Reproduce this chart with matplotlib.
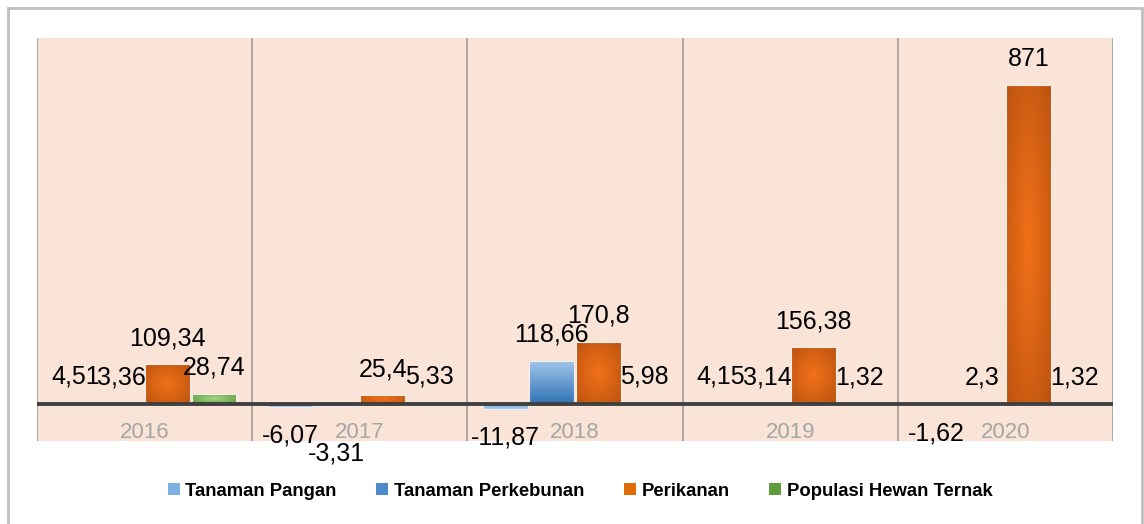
import numpy as np
import matplotlib.pyplot as plt
from matplotlib.colors import LinearSegmentedColormap
from matplotlib.patches import Patch, Rectangle

# data (growth, %)
years = ['2016', '2017', '2018', '2019', '2020']
series_names = ['Tanaman Pangan', 'Tanaman Perkebunan', 'Perikanan', 'Populasi Hewan Ternak']
tanaman_pangan = [4.51, -6.07, -11.87, 4.15, -1.62]
tanaman_perkebunan = [3.36, -3.31, 118.66, 3.14, 2.3]
perikanan = [109.34, 25.4, 170.8, 156.38, 871]
hewan_ternak = [28.74, 5.33, 5.98, 1.32, 1.32]

# (light/centre colour, dark/edge colour, gradient type, legend colour)
styles = [
    ('#A9CDEE', '#6FA5DC', 'vertical', '#7EB1E3'),
    ('#A3C7EA', '#2E72B4', 'vertical', '#4F8ACB'),
    ('#F27119', '#BC5310', 'radial', '#E26B0A'),
    ('#A6D48A', '#5A9A32', 'radial', '#5E9E3A'),
]

# extra push for labels that would collide
nudge = {(1, 1): -14}

label_font = ['Liberation Sans', 'DejaVu Sans']


def fmt(v):
    return f'{v:g}'.replace('.', ',')


def shade_bar(ax, bar, c_light, c_dark, mode):
    x, y = bar.get_x(), bar.get_y()
    w, h = bar.get_width(), bar.get_height()
    cmap = LinearSegmentedColormap.from_list('shade', [c_light, c_dark])
    if mode == 'radial':
        xx, yy = np.meshgrid(np.linspace(-1, 1, 60), np.linspace(-1, 1, 200))
        z = np.sqrt(xx ** 2 + yy ** 2) / np.sqrt(2)
    else:
        z = np.linspace(1, 0, 200)[:, None] * np.ones((1, 2))
    im = ax.imshow(z, cmap=cmap, vmin=0, vmax=1, extent=(x, x + w, y, y + h),
                   origin='lower', aspect='auto', interpolation='bilinear', zorder=2)
    im.set_clip_path(bar)


W, H = 1144, 524
fig = plt.figure(figsize=(W / 100, H / 100), dpi=100)
ax = fig.add_axes([37 / W, (H - 441) / H, (1113 - 37) / W, (441 - 38) / H])
ax.set_facecolor('#FAE4D7')

x = np.arange(len(years))
pitch = 0.215
all_series = [tanaman_pangan, tanaman_perkebunan, perikanan, hewan_ternak]

for k, vals in enumerate(all_series):
    c_light, c_dark, mode, _ = styles[k]
    pos = x + (k - 1.5) * pitch
    bars = ax.bar(pos, vals, width=pitch * 0.97, facecolor='none',
                  edgecolor='#F4EEEA', linewidth=0.8, zorder=3)
    for i, b in enumerate(bars):
        shade_bar(ax, b, c_light, c_dark, mode)
        v = vals[i]
        off = 18.7 if v >= 0 else -20.5
        off += nudge.get((k, i), 0)
        ax.annotate(fmt(v), (pos[i], v), xytext=(0, off), textcoords='offset points',
                    ha='center', va='center', fontsize=18, family=label_font,
                    color='#000000', zorder=5)

# category dividers and zero line
for b in np.arange(-0.5, len(years) + 0.5, 1):
    ax.axvline(b, color='#B2A9A2', linewidth=1.5, zorder=1)
ax.axhline(0, color='#404040', linewidth=2.8, zorder=4)

for i, yr in enumerate(years):
    ax.text(i, -76, yr, ha='center', va='center', fontsize=16,
            family=label_font, color='#A6A6A6', zorder=4)

ax.set_xlim(-0.5, len(years) - 0.5)
ax.set_ylim(-100, 1000)
ax.set_xticks([])
ax.set_yticks([])
for s in ax.spines.values():
    s.set_visible(False)

handles = [Patch(facecolor=st[3], edgecolor='none') for st in styles]
fig.legend(handles, series_names, loc='center', bbox_to_anchor=(580 / W, 1 - 491 / H), ncol=4,
           frameon=False, prop={'family': label_font, 'weight': 'bold', 'size': 13.3},
           handlelength=0.65, handleheight=0.65, handletextpad=0.3, columnspacing=2.15)

# outer chart border
fig.patches.append(Rectangle((8 / W, -0.02), (1142 - 8) / W, 1.02 - 8 / H,
                             transform=fig.transFigure, fill=False,
                             edgecolor='#BFBFBF', linewidth=2))

fig.savefig('out.png', dpi=100)
